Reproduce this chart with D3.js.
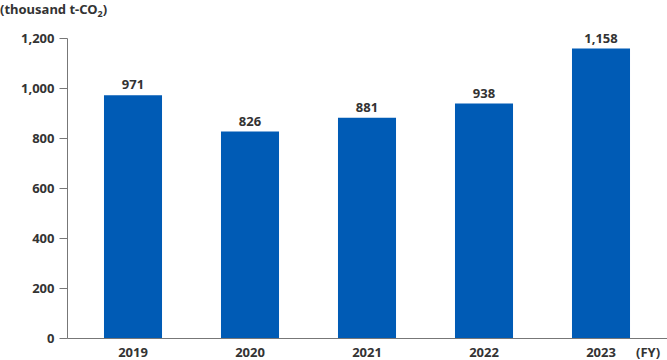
<!DOCTYPE html>
<html><head><meta charset="utf-8">
<script src="https://cdn.jsdelivr.net/npm/d3@7"></script>
<style>body{margin:0;background:#fff}svg text{font-family:"Noto Sans",sans-serif;font-weight:bold;fill:#333}</style>
</head><body><svg id="c" width="667" height="360"></svg>
<script>
const years = ["2019","2020","2021","2022","2023"];
const values = [971, 826, 881, 938, 1158];
const yTicks = [0, 200, 400, 600, 800, 1000, 1200];

const svg = d3.select("#c");
const y = d3.scaleLinear().domain([0,1200]).range([338,38]);
const x = d3.scaleBand().domain(years).range([74.5,659.5]).paddingInner(0.504).paddingOuter(0.252);
const fmt = d3.format(",");

// y axis
const ya = svg.append("g").attr("transform","translate(67.5,0)")
  .call(d3.axisLeft(y).tickValues(yTicks).tickFormat(fmt).tickSize(8).tickPadding(5));
ya.select(".domain").attr("stroke","#777").attr("d","M0,38.5V338.5");
ya.selectAll(".tick line").attr("stroke","#777");
ya.selectAll(".tick text").style("font-size","13px").attr("fill","#333");

// bars
svg.append("g").selectAll("rect").data(values).join("rect")
  .attr("x",(d,i)=>x(years[i])).attr("width",x.bandwidth())
  .attr("y",d=>y(d)).attr("height",d=>y(0)-y(d)).attr("fill","#005bb5");

// baseline
svg.append("line").attr("x1",67.5).attr("x2",667).attr("y1",338.5).attr("y2",338.5).attr("stroke","#777");

// value labels
svg.append("g").selectAll("text").data(values).join("text")
  .attr("x",(d,i)=>x(years[i])+x.bandwidth()/2).attr("y",d=>y(d)-6)
  .attr("text-anchor","middle").style("font-size","13px").text(d=>fmt(d));

// x labels
svg.append("g").selectAll("text").data(years).join("text")
  .attr("x",d=>x(d)+x.bandwidth()/2).attr("y",357)
  .attr("text-anchor","middle").style("font-size","13px").text(d=>d);
svg.append("text").attr("x",636).attr("y",357).style("font-size","13px").text("(FY)");

// unit title
const t = svg.append("text").attr("x",0).attr("y",14).style("font-size","13px");
t.append("tspan").text("(thousand t-CO");
t.append("tspan").attr("dy",3).style("font-size","9px").text("2");
t.append("tspan").attr("dy",-3).text(")");
</script></body></html>
